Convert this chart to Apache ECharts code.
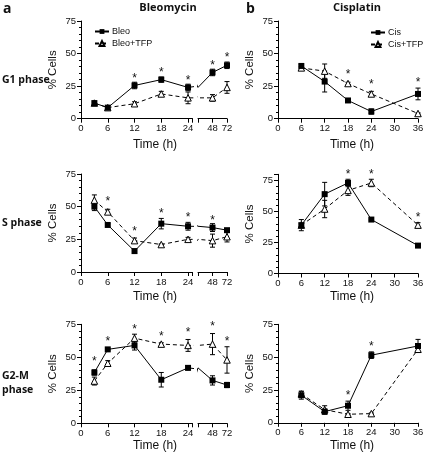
<!DOCTYPE html>
<html><head><meta charset="utf-8">
<script src="https://cdn.jsdelivr.net/npm/echarts@6/dist/echarts.min.js"></script>
<style>html,body{margin:0;padding:0;background:#fff}#c{width:428px;height:453px}</style>
</head><body><div id="c"></div>
<script>
// ---------- DATA ----------
const bleoTimes = [3, 6, 12, 18, 24, 48, 72];
const cisTimes = [6, 12, 18, 24, 36];
const bleoTicks = [0, 6, 12, 18, 24, 48, 72];
const cisTicks = [0, 6, 12, 18, 24, 30, 36];
const yTicks = [0, 25, 50, 75];

// G1 phase - Bleomycin
const g1Bleo       = [12, 8.5, 25.5, 30, 24, 35.5, 41];
const g1BleoErr    = [0.8, 0, 2.5, 2, 2.5, 2.5, 2.5];
const g1BleoTfp    = [12, 8.5, 11.5, 19, 16, 16, 24];
const g1BleoTfpErr = [0, 0, 1.5, 2, 4.5, 2.5, 4.5];
const g1BleoStarT  = [12, 18, 24, 48, 72];
const g1BleoStarY  = [32, 37, 31, 42, 48];
// G1 phase - Cisplatin
const g1Cis        = [40.5, 28.5, 14, 5.5, 19];
const g1CisErr     = [1, 8, 0.5, 2, 4.5];
const g1CisTfp     = [39, 36.5, 27, 19, 4];
const g1CisTfpErr  = [1, 5.5, 1, 2, 0.5];
const g1CisStarT   = [18, 24, 36];
const g1CisStarY   = [35, 27.5, 29.5];

// S phase - Bleomycin
const sBleo        = [50, 36, 16, 37, 35, 34, 32];
const sBleoErr     = [3, 1, 1.5, 4, 3, 3, 1];
const sBleoTfp     = [55, 46, 24, 21, 25, 24, 27];
const sBleoTfpErr  = [4, 2, 2, 0.5, 1.5, 5, 4];
const sBleoStarT   = [6, 12, 18, 24, 48];
const sBleoStarY   = [55, 32, 46.5, 43, 40.5];
// S phase - Cisplatin
const sCis         = [39, 64, 73, 43.5, 22.5];
const sCisErr      = [4.5, 9.5, 3, 0.5, 0.5];
const sCisTfp      = [39, 52, 67, 73, 39];
const sCisTfpErr   = [1, 7, 4, 3, 2];
const sCisStarT    = [18, 24, 36];
const sCisStarY    = [81.5, 81.5, 47];

// G2-M phase - Bleomycin
const g2Bleo       = [38.5, 56, 59, 33, 42, 32.5, 29];
const g2BleoErr    = [2, 0.5, 3.5, 5.5, 1.5, 3.5, 2];
const g2BleoTfp    = [32, 45.5, 64.5, 60, 59, 60, 48];
const g2BleoTfpErr = [3, 2, 3, 1, 4.5, 8, 10];
const g2BleoStarT  = [3, 6, 12, 18, 24, 48, 72];
const g2BleoStarY  = [48, 63, 72.5, 67, 70, 74.5, 63];
// G2-M phase - Cisplatin
const g2Cis        = [21, 8.5, 13, 51.5, 58.5];
const g2CisErr     = [3, 2, 3.5, 2.5, 5];
const g2CisTfp     = [22, 10, 6.5, 7, 56];
const g2CisTfpErr  = [2, 3, 0.5, 0.5, 2];
const g2CisStarT   = [18, 24];
const g2CisStarY   = [22, 59.5];

// ---------- LAYOUT ----------
const FONT = '"Liberation Sans", Arial, sans-serif';
const BOLD = '"Open Sans", "Liberation Sans", sans-serif';
const rows = [
  {top: 21,    height: 97.7, bMax: 75, bTop: 21,    bHeight: 97.7},
  {top: 174,   height: 98,   bMax: 80, bTop: 174.3, bHeight: 99.2},
  {top: 324.3, height: 99,   bMax: 75, bTop: 324.3, bHeight: 98.5}
];
const grids = [], xAxes = [], yAxes = [], series = [];

function yAxisDef(gi, max, show) {
  return {
    gridIndex: gi, type: 'value', min: 0, max: max, interval: 25,
    show: show,
    name: show ? '% Cells' : '', nameLocation: 'middle', nameGap: 22,
    nameTextStyle: {fontFamily: FONT, fontSize: 11.5, color: '#111'},
    axisLine: {show: true, lineStyle: {color: '#000', width: 1}},
    axisTick: {show: true, length: 4, lineStyle: {color: '#000'}},
    minorTick: {show: true, splitNumber: 5, length: 2, lineStyle: {color: '#000'}},
    splitLine: {show: false},
    axisLabel: {fontFamily: FONT, fontSize: 9.5, color: '#111', margin: 5, showMaxLabel: max === 75,
      formatter: v => (yTicks.indexOf(v) >= 0 ? String(v) : '')}
  };
}
function xAxisDef(gi, min, max, interval, ticks) {
  return {
    gridIndex: gi, type: 'value', min: min, max: max, interval: interval,
    axisLine: {show: true, onZero: false, lineStyle: {color: '#000', width: 1}},
    axisTick: {show: true, length: 4, lineStyle: {color: '#000'}},
    splitLine: {show: false},
    axisLabel: {fontFamily: FONT, fontSize: 9.5, color: '#111', margin: 5,
      showMinLabel: true, showMaxLabel: true,
      formatter: v => ((ticks.indexOf(v) >= 0 && !(min === 24 && v === 24)) ? String(v) : '')}
  };
}

rows.forEach((r, ri) => {
  const gL = grids.length;
  grids.push({left: 81, top: r.top, width: 111.5, height: r.height});
  xAxes.push(xAxisDef(gL, 0, 25, 6, bleoTicks));
  yAxes.push(yAxisDef(gL, 75, true));
  grids.push({left: 198, top: r.top, width: 29, height: r.height});
  xAxes.push(xAxisDef(gL + 1, 24, 72, 24, bleoTicks));
  yAxes.push(yAxisDef(gL + 1, 75, false));
  grids.push({left: 278, top: r.bTop, width: 140, height: r.bHeight});
  xAxes.push(xAxisDef(gL + 2, 0, 36, 6, cisTicks));
  yAxes.push(yAxisDef(gL + 2, r.bMax, true));
});

function errRender(params, api) {
  const x = api.value(0), lo = api.value(1), hi = api.value(2);
  const p1 = api.coord([x, hi]), p2 = api.coord([x, lo]);
  const w = 2.5, st = {stroke: '#000', lineWidth: 1};
  return {type: 'group', children: [
    {type: 'line', shape: {x1: p1[0], y1: p1[1], x2: p2[0], y2: p2[1]}, style: st},
    {type: 'line', shape: {x1: p1[0] - w, y1: p1[1], x2: p1[0] + w, y2: p1[1]}, style: st},
    {type: 'line', shape: {x1: p2[0] - w, y1: p2[1], x2: p2[0] + w, y2: p2[1]}, style: st}
  ]};
}
function starRender(params, api) {
  const p = api.coord([api.value(0), api.value(1)]);
  return {type: 'text', x: p[0], y: p[1] + 2,
    style: {text: '*', align: 'center', verticalAlign: 'middle', font: '12px ' + FONT, fill: '#111'}};
}

function addSeries(gi, times, vals, errs, name, open, keep) {
  const data = times.map((t, i) => keep(t) ? [t, vals[i]] : {value: [t, vals[i]], symbol: 'none'});
  series.push({
    type: 'line', name: name, xAxisIndex: gi, yAxisIndex: gi, data: data, clip: true, z: 3,
    symbol: open ? 'triangle' : 'rect', symbolSize: open ? 6.5 : 6,
    lineStyle: {color: '#000', width: 1, type: open ? [4, 3] : 'solid'},
    itemStyle: open ? {color: '#fff', borderColor: '#000', borderWidth: 1} : {color: '#000', borderWidth: 0},
    emphasis: {disabled: true}
  });
  const ed = [];
  times.forEach((t, i) => { if (keep(t) && errs[i] > 0) ed.push([t, vals[i] - errs[i], vals[i] + errs[i]]); });
  series.push({type: 'custom', xAxisIndex: gi, yAxisIndex: gi, renderItem: errRender,
    encode: {x: 0, y: [1, 2]}, data: ed, z: 2, silent: true});
}
function addStars(gi, ts, ys, keep) {
  const d = [];
  ts.forEach((t, i) => { if (keep(t)) d.push([t, ys[i]]); });
  series.push({type: 'custom', xAxisIndex: gi, yAxisIndex: gi, renderItem: starRender,
    encode: {x: 0, y: 1}, data: d, z: 4, silent: true, clip: false});
}

const bleoRows = [
  [g1Bleo, g1BleoErr, g1BleoTfp, g1BleoTfpErr, g1BleoStarT, g1BleoStarY],
  [sBleo, sBleoErr, sBleoTfp, sBleoTfpErr, sBleoStarT, sBleoStarY],
  [g2Bleo, g2BleoErr, g2BleoTfp, g2BleoTfpErr, g2BleoStarT, g2BleoStarY]
];
const cisRows = [
  [g1Cis, g1CisErr, g1CisTfp, g1CisTfpErr, g1CisStarT, g1CisStarY],
  [sCis, sCisErr, sCisTfp, sCisTfpErr, sCisStarT, sCisStarY],
  [g2Cis, g2CisErr, g2CisTfp, g2CisTfpErr, g2CisStarT, g2CisStarY]
];
const leftKeep = t => t <= 24, rightKeep = t => t >= 48, allKeep = t => true;
for (let ri = 0; ri < 3; ri++) {
  const b = bleoRows[ri], c = cisRows[ri];
  [[ri * 3, leftKeep], [ri * 3 + 1, rightKeep]].forEach(([gi, keep]) => {
    addSeries(gi, bleoTimes, b[2], b[3], 'Bleo+TFP', true, keep);
    addSeries(gi, bleoTimes, b[0], b[1], 'Bleo', false, keep);
    addStars(gi, b[4], b[5], keep);
  });
  addSeries(ri * 3 + 2, cisTimes, c[2], c[3], 'Cis+TFP', true, allKeep);
  addSeries(ri * 3 + 2, cisTimes, c[0], c[1], 'Cis', false, allKeep);
  addStars(ri * 3 + 2, c[4], c[5], allKeep);
}

const txt = (x, y, text, font, align) => ({type: 'text', x: x, y: y, silent: true,
  style: {text: text, font: font, fill: '#111', align: align || 'center', verticalAlign: 'middle'}});
const graphic = [
  txt(3, 9, 'a', 'bold 14px ' + BOLD, 'left'),
  txt(246, 9, 'b', 'bold 14px ' + BOLD, 'left'),
  txt(168, 8, 'Bleomycin', 'bold 11px ' + BOLD),
  txt(357, 8, 'Cisplatin', 'bold 11px ' + BOLD),
  txt(2, 80, 'G1 phase', 'bold 10.5px ' + BOLD, 'left'),
  txt(2, 223, 'S phase', 'bold 10.5px ' + BOLD, 'left'),
  txt(2, 376, 'G2-M', 'bold 10.5px ' + BOLD, 'left'),
  txt(2, 390, 'phase', 'bold 10.5px ' + BOLD, 'left'),
  txt(155, 145, 'Time (h)', '12px ' + FONT),
  txt(352, 145, 'Time (h)', '12px ' + FONT),
  txt(155, 297, 'Time (h)', '12px ' + FONT),
  txt(352, 297, 'Time (h)', '12px ' + FONT),
  txt(155, 446, 'Time (h)', '12px ' + FONT),
  txt(352, 446, 'Time (h)', '12px ' + FONT)
];

const legendBase = {orient: 'vertical', itemWidth: 14, itemHeight: 6, itemGap: 3,
  textStyle: {fontFamily: FONT, fontSize: 9, color: '#111', padding: [0, 0, 0, -2]},
  selectedMode: false, padding: 0};

const chart = echarts.init(document.getElementById('c'), null, {renderer: 'canvas'});
chart.setOption({
  animation: false,
  backgroundColor: '#fff',
  grid: grids, xAxis: xAxes, yAxis: yAxes,
  legend: [
    Object.assign({}, legendBase, {data: ['Bleo', 'Bleo+TFP'], left: 94, top: 27}),
    Object.assign({}, legendBase, {data: ['Cis', 'Cis+TFP'], left: 370, top: 28})
  ],
  graphic: graphic,
  series: series
});
</script></body></html>
